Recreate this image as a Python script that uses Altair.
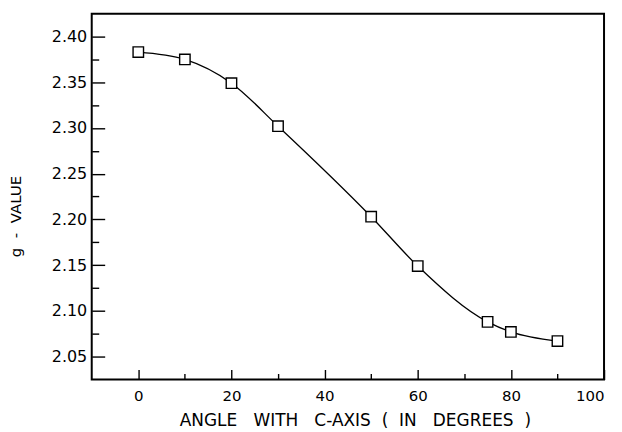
import altair as alt
import pandas as pd

angle = [0, 10, 20, 30, 50, 60, 75, 80, 90]
gval = [2.383, 2.375, 2.349, 2.302, 2.203, 2.149, 2.088, 2.077, 2.067]

x_major = [0, 20, 40, 60, 80, 100]
x_minor = [10, 30, 50, 70, 90]
y_major = [2.05, 2.10, 2.15, 2.20, 2.25, 2.30, 2.35, 2.40]
y_minor = [2.075, 2.125, 2.175, 2.225, 2.275, 2.325, 2.375]

NB = "\u00a0"
x_title = f"ANGLE{NB*3}WITH{NB*3}C-AXIS{NB*2}({NB*2}IN{NB*3}DEGREES{NB*2})"
y_title = f"g{NB*2}-{NB*2}VALUE"

df = pd.DataFrame({"angle": angle, "g": gval})

W, H = 514, 367
FONT = "DejaVu Sans"
INK = "#000"

xs = alt.Scale(domain=[-10, 100], nice=False, zero=False)
ys = alt.Scale(domain=[2.025, 2.425], nice=False, zero=False)

x_lab = alt.Axis(values=x_major, format="d", tickSize=0, domain=False, grid=False,
                 labelFont=FONT, labelFontSize=15, labelColor=INK, labelPadding=9,
                 title=x_title, titleFont=FONT,
                 titleFontSize=17, titleFontWeight="normal", titleColor=INK,
                 titlePadding=9, titleX=264)
y_lab = alt.Axis(values=y_major, format=".2f", tickSize=0, domain=False, grid=False,
                 labelFont=FONT, labelFontSize=16, labelColor=INK, labelPadding=5,
                 title=y_title, titleFont=FONT, titleFontSize=15,
                 titleFontWeight="normal", titleColor=INK, titleX=-68, titleY=203)

line = alt.Chart(df).mark_line(interpolate="monotone", color=INK, strokeWidth=1.3).encode(
    x=alt.X("angle:Q", scale=xs, axis=x_lab),
    y=alt.Y("g:Q", scale=ys, axis=y_lab),
)

pts = alt.Chart(df).mark_point(shape="square", size=110, filled=False, fill="white",
                                 stroke=INK, strokeWidth=1.4, opacity=1).encode(
    x=alt.X("angle:Q", scale=xs, axis=None),
    y=alt.Y("g:Q", scale=ys, axis=None),
)

def in_x(vals, size):
    return alt.Chart(df).mark_point(opacity=0).encode(
        x=alt.X("angle:Q", scale=xs, axis=alt.Axis(orient="top", offset=-H, values=vals,
                labels=False, title=None, domain=False, grid=False, tickSize=size,
                tickColor=INK, tickWidth=1.4)))

def in_y(vals, size):
    return alt.Chart(df).mark_point(opacity=0).encode(
        y=alt.Y("g:Q", scale=ys, axis=alt.Axis(orient="right", offset=-W, values=vals,
                labels=False, title=None, domain=False, grid=False, tickSize=size,
                tickColor=INK, tickWidth=1.4)))

chart = alt.layer(
    line, pts,
    in_x(x_major, 10), in_x(x_minor, 6),
    in_y(y_major, 13), in_y(y_minor, 7),
).resolve_axis(x="independent", y="independent").properties(
    width=W, height=H,
    background="white",
    autosize=alt.AutoSizeParams(type="none"),
    padding={"left": 84, "top": 5, "right": 10, "bottom": 52},
).configure_view(stroke=INK, strokeWidth=2)

chart.save("out.html", embed_options={"renderer": "svg", "actions": False})
